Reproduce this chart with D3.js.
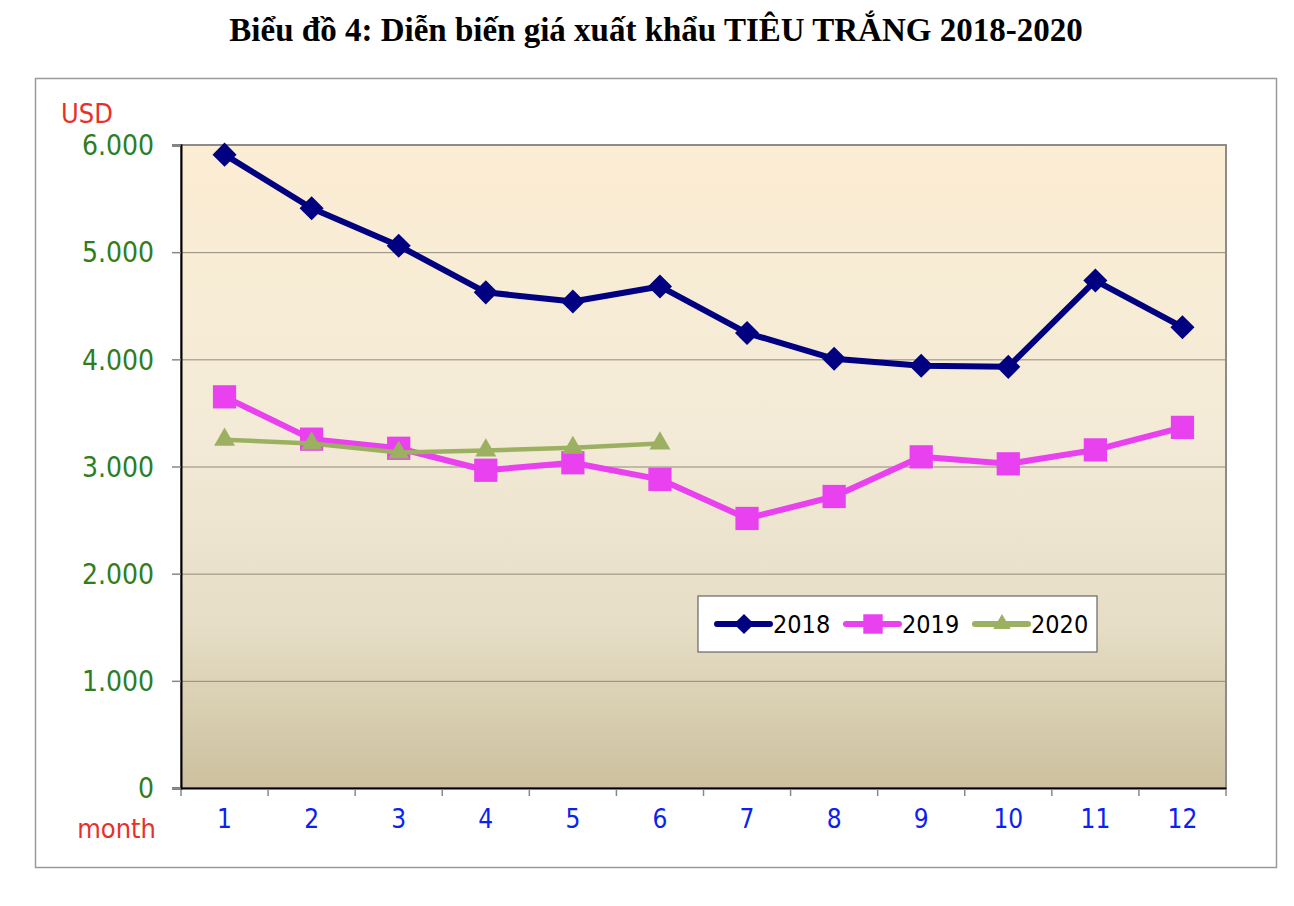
<!DOCTYPE html>
<html>
<head>
<meta charset="utf-8">
<script src="https://cdn.jsdelivr.net/npm/d3@7"></script>
<style>
    body { margin: 0; background: #fff; }
    svg { display: block; }
</style>
</head>
<body>
<svg width="1294" height="906"></svg>
<script>
// Data
const months = ['1', '2', '3', '4', '5', '6', '7', '8', '9', '10', '11', '12'];
const price2018 = [5910, 5410, 5060, 4625, 4540, 4680, 4245, 4005, 3940, 3930, 4735, 4300];
const price2019 = [3650, 3255, 3170, 2965, 3035, 2880, 2515, 2720, 3090, 3025, 3155, 3365];
const price2020 = [3250, 3215, 3130, 3150, 3175, 3215];
const yTicks = [0, 1000, 2000, 3000, 4000, 5000, 6000];
const seriesNames = ['2018', '2019', '2020'];

function drawLineChart() {
    const svg = d3.select('svg');
    svg.selectAll('*').remove();

    const plot = { left: 181, right: 1226, top: 145, bottom: 788 };
    const labelFont = '"DejaVu Sans Condensed", "DejaVu Sans", sans-serif';

    const vn = d3.formatLocale({ decimal: ',', thousands: '.', grouping: [3], currency: ['', ''] });
    const fmt = vn.format(',');

    const xScale = d3.scaleBand()
        .domain(months)
        .range([plot.left, plot.right])
        .padding(0);
    const yScale = d3.scaleLinear()
        .domain([0, 6000])
        .range([plot.bottom, plot.top]);
    const xPos = (d, i) => xScale(months[i]) + xScale.bandwidth() / 2;

    // Gradient for plot background
    const defs = svg.append('defs');
    const grad = defs.append('linearGradient')
        .attr('id', 'bg')
        .attr('x1', 0).attr('y1', 0).attr('x2', 0).attr('y2', 1);
    [[0, '#fcedd3'], [0.45, '#f3ebd7'], [0.75, '#e5ddc5'], [1, '#ccc09e']].forEach(s => {
        grad.append('stop').attr('offset', s[0]).attr('stop-color', s[1]);
    });

    // Outer frame
    svg.append('rect')
        .attr('x', 35.5).attr('y', 78.5)
        .attr('width', 1241).attr('height', 789)
        .attr('fill', '#fff')
        .attr('stroke', '#9a9a9a')
        .attr('stroke-width', 1.5);

    // Title
    svg.append('text')
        .text('Biểu đồ 4: Diễn biến giá xuất khẩu TIÊU TRẮNG 2018-2020')
        .attr('x', 656)
        .attr('y', 41)
        .style('text-anchor', 'middle')
        .style('font-family', '"Liberation Serif", "Times New Roman", serif')
        .style('font-weight', 'bold')
        .style('font-size', '33px');

    // Plot area
    svg.append('rect')
        .attr('x', plot.left).attr('y', plot.top)
        .attr('width', plot.right - plot.left)
        .attr('height', plot.bottom - plot.top)
        .attr('fill', 'url(#bg)')
        .attr('stroke', '#8c8c8c')
        .attr('stroke-width', 2);

    // Gridlines
    svg.append('g')
        .selectAll('line')
        .data(yTicks.filter(d => d > 0 && d < 6000))
        .join('line')
        .attr('x1', plot.left).attr('x2', plot.right)
        .attr('y1', d => yScale(d) + 0.5).attr('y2', d => yScale(d) + 0.5)
        .attr('stroke', '#8f8a7a')
        .attr('stroke-width', 1);

    // Axes
    const xAxis = d3.axisBottom(xScale).tickSize(0).tickPadding(22);
    const yAxis = d3.axisLeft(yScale).tickValues(yTicks).tickFormat(fmt).tickSize(9).tickPadding(18);

    const gx = svg.append('g')
        .attr('transform', `translate(0, ${plot.bottom})`)
        .call(xAxis);
    gx.select('.domain').attr('stroke', '#000').attr('stroke-width', 2);
    gx.selectAll('text')
        .style('font-family', labelFont)
        .style('font-size', '26px')
        .attr('fill', '#0a22f0');
    // x ticks sit on the band edges
    gx.selectAll('.edge')
        .data(d3.range(months.length + 1))
        .join('line')
        .attr('class', 'edge')
        .attr('x1', i => plot.left + i * xScale.bandwidth())
        .attr('x2', i => plot.left + i * xScale.bandwidth())
        .attr('y1', 1).attr('y2', 8)
        .attr('stroke', '#888')
        .attr('stroke-width', 1.5);

    const gy = svg.append('g')
        .attr('transform', `translate(${plot.left}, 0)`)
        .call(yAxis);
    gy.select('.domain').attr('stroke', '#000').attr('stroke-width', 2);
    gy.selectAll('.tick line').attr('stroke', '#888').attr('stroke-width', 1.5);
    gy.selectAll('text')
        .style('font-family', labelFont)
        .style('font-size', '28px')
        .attr('dy', '0.35em')
        .attr('fill', '#2e7d1f');

    // Axis captions
    svg.append('text')
        .text('USD')
        .attr('x', 61).attr('y', 123)
        .style('font-family', labelFont)
        .style('font-size', '27px')
        .attr('fill', '#e8302a');
    svg.append('text')
        .text('month')
        .attr('x', 156).attr('y', 838)
        .style('text-anchor', 'end')
        .style('font-family', labelFont)
        .style('font-size', '27px')
        .attr('fill', '#e8302a');

    // Series (diamond = square rotated 45 degrees)
    const series = [
        { name: seriesNames[0], values: price2018, color: '#000080', width: 6, shape: d3.symbolSquare, size: 290, rotate: 45 },
        { name: seriesNames[1], values: price2019, color: '#e940f0', width: 6, shape: d3.symbolSquare, size: 540, rotate: 0 },
        { name: seriesNames[2], values: price2020, color: '#9cb061', width: 4.5, shape: d3.symbolTriangle, size: 190, rotate: 0 }
    ];

    const line = d3.line()
        .x(xPos)
        .y(d => yScale(d));

    series.forEach(s => {
        const g = svg.append('g');
        g.append('path')
            .datum(s.values)
            .attr('d', line)
            .attr('fill', 'none')
            .attr('stroke', s.color)
            .attr('stroke-width', s.width)
            .attr('stroke-linejoin', 'round');
        g.selectAll('path.marker')
            .data(s.values)
            .join('path')
            .attr('class', 'marker')
            .attr('d', d3.symbol().type(s.shape).size(s.size))
            .attr('transform', (d, i) => `translate(${xPos(d, i)}, ${yScale(d)}) rotate(${s.rotate})`)
            .attr('fill', s.color);
    });

    // Legend
    const legend = svg.append('g').attr('transform', 'translate(698, 596)');
    legend.append('rect')
        .attr('width', 399).attr('height', 56)
        .attr('fill', '#fff')
        .attr('stroke', '#666')
        .attr('stroke-width', 1.2);
    const itemX = [19, 148, 277];
    series.forEach((s, i) => {
        const item = legend.append('g').attr('transform', `translate(${itemX[i]}, 28)`);
        item.append('line')
            .attr('x1', 0).attr('x2', 53)
            .attr('stroke', s.color)
            .attr('stroke-width', 6)
            .attr('stroke-linecap', 'round');
        item.append('path')
            .attr('d', d3.symbol().type(s.shape).size(s.size * 0.7))
            .attr('transform', `translate(27, 0) rotate(${s.rotate})`)
            .attr('fill', s.color);
        item.append('text')
            .text(s.name)
            .attr('x', 56)
            .attr('y', 9)
            .style('font-family', labelFont)
            .style('font-size', '25px')
            .attr('fill', '#000');
    });
}

window.addEventListener('load', drawLineChart);
</script>
</body>
</html>
